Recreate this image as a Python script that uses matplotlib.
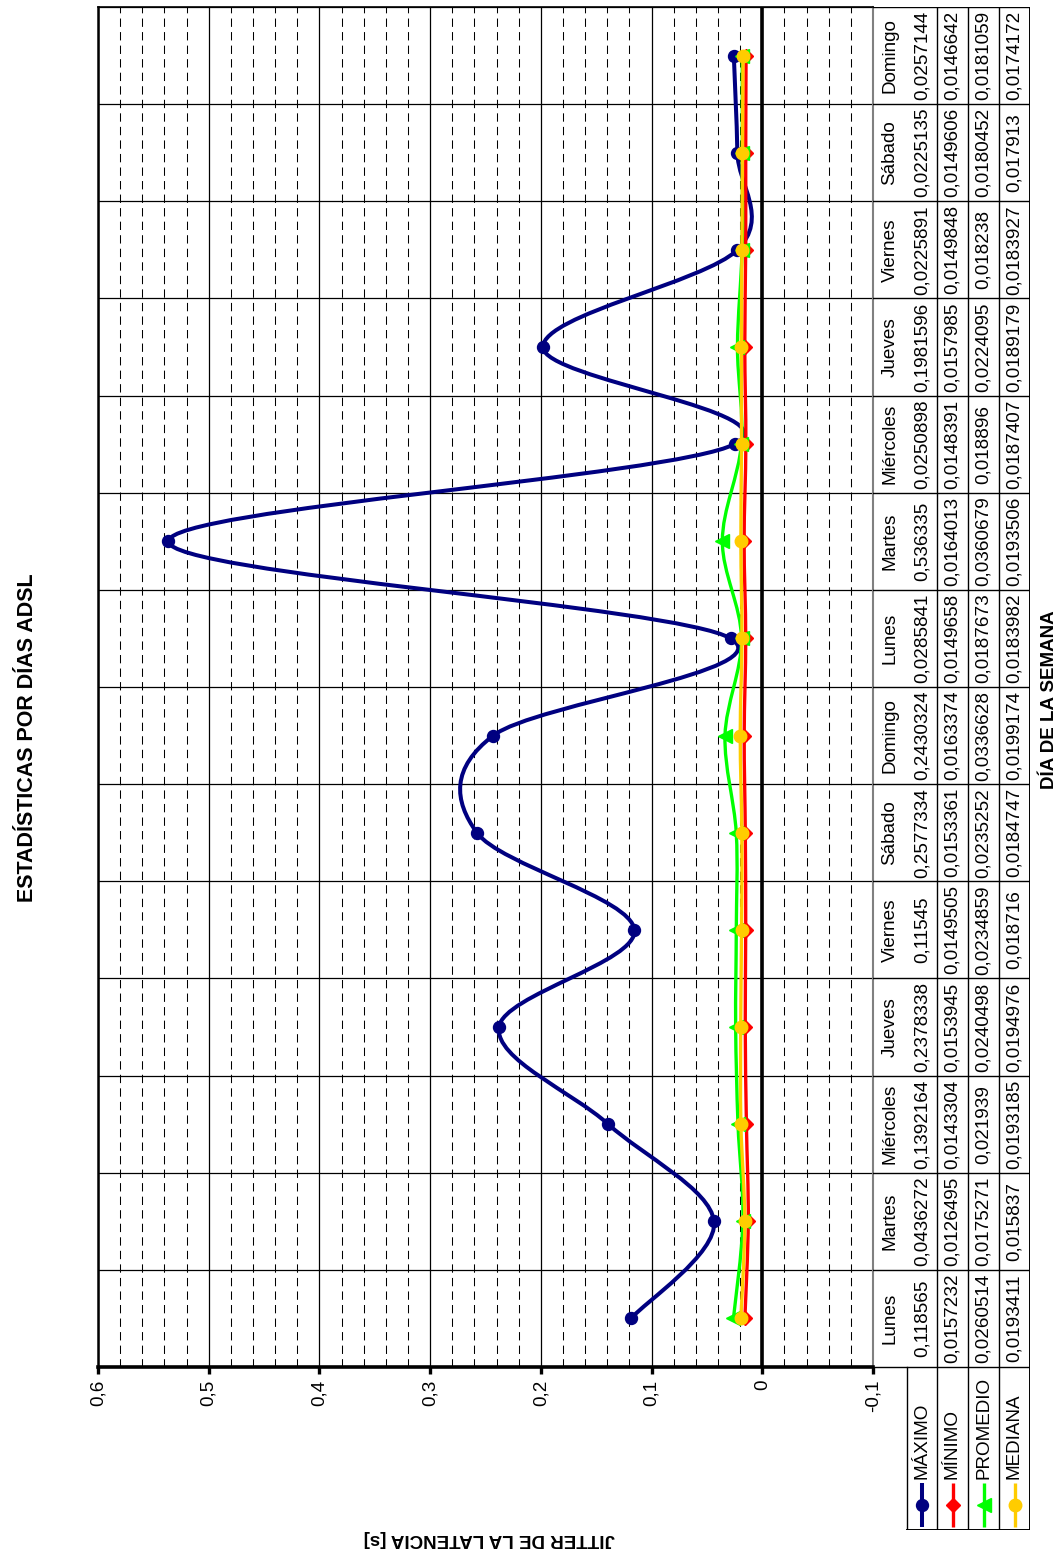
import numpy as np
import matplotlib
matplotlib.use("Agg")
import matplotlib.pyplot as plt
from matplotlib.path import Path
from matplotlib.patches import PathPatch
from matplotlib.ticker import MultipleLocator, FuncFormatter

plt.rcParams['font.family'] = ['Liberation Sans', 'DejaVu Sans']

# ---- data -------------------------------------------------------------
dias = ["Lunes", "Martes", "Miércoles", "Jueves", "Viernes", "Sábado", "Domingo",
        "Lunes", "Martes", "Miércoles", "Jueves", "Viernes", "Sábado", "Domingo"]

maximo = [0.118565, 0.0436272, 0.1392164, 0.2378338, 0.11545, 0.2577334, 0.2430324,
          0.0285841, 0.536335, 0.0250898, 0.1981596, 0.0225891, 0.0225135, 0.0257144]
minimo = [0.0157232, 0.0126495, 0.0143304, 0.0153945, 0.0149505, 0.0153361, 0.0163374,
          0.0149658, 0.0164013, 0.0148391, 0.0157985, 0.0149848, 0.0149606, 0.0146642]
promedio = [0.0260514, 0.0175271, 0.021939, 0.0240498, 0.0234859, 0.0235252, 0.0336628,
            0.0187673, 0.0360679, 0.018896, 0.0224095, 0.018238, 0.0180452, 0.0181059]
mediana = [0.0193411, 0.015837, 0.0193185, 0.0194976, 0.018716, 0.0184747, 0.0199174,
           0.0183982, 0.0193506, 0.0187407, 0.0189179, 0.0183927, 0.017913, 0.0174172]

nombres = ["MÁXIMO", "MÍNIMO", "PROMEDIO", "MEDIANA"]
series = [maximo, minimo, promedio, mediana]

titulo = "ESTADÍSTICAS POR DÍAS ADSL"
eje_valor = "JITTER DE LA LATENCIA [s]"
eje_categoria = "DÍA DE LA SEMANA"

# ---- styles -----------------------------------------------------------
colores = ["#000080", "#FF0000", "#00FF00", "#FFCC00"]
marcadores = ["o", "D", "<", "o"]
tam_marcador = [8.6, 7.0, 9.5, 9.0]
grosor = [2.9, 2.4, 2.4, 2.4]
FS = 13.6

W, H = 1060, 1551
fig = plt.figure(figsize=(W / 100, H / 100), dpi=100)


def fx(px):
    return px / W


def fy(py):
    return 1 - py / H


# plot area (the chart is laid out turned a quarter turn)
L, R, T, B = 98, 873, 7, 1367
ax = fig.add_axes([fx(L), fy(B), (R - L) / W, (B - T) / H])
n = len(dias)
ax.set_xlim(0.6, -0.1)
ax.set_ylim(-0.5, n - 0.5)

ax.xaxis.set_major_locator(MultipleLocator(0.1))
ax.xaxis.set_minor_locator(MultipleLocator(0.02))


def coma(v, _):
    if abs(v) < 1e-9:
        return "0"
    return ("%g" % round(v, 2)).replace(".", ",")


ax.xaxis.set_major_formatter(FuncFormatter(coma))
ax.set_yticks(np.arange(-0.5, n, 1.0))
ax.tick_params(axis="y", length=0, labelleft=False)
ax.tick_params(axis="x", which="major", direction="out", length=5, width=2.4,
               labelsize=FS, labelrotation=90, pad=4)
ax.tick_params(axis="x", which="minor", length=0)

ax.grid(which="major", axis="x", color="black", lw=0.9)
ax.grid(which="minor", axis="x", color="black", lw=0.75, ls=(0, (8, 5)))
ax.grid(which="major", axis="y", color="black", lw=0.9)
ax.set_axisbelow(True)

ax.axvline(0, color="black", lw=2.6, zorder=2)
for s in ["left", "top", "right", "bottom"]:
    ax.spines[s].set_color("black")
ax.spines["left"].set_linewidth(1.8)
ax.spines["top"].set_linewidth(1.2)
ax.spines["right"].set_linewidth(1.5)
ax.spines["right"].set_color("#808080")
ax.spines["bottom"].set_linewidth(2.6)


def suavizada(vals):
    """Smoothed polyline as cubic Bezier segments (value on x, day on y)."""
    pts = np.column_stack([np.asarray(vals, float), np.arange(len(vals), dtype=float)])
    ext = np.vstack([pts[0], pts, pts[-1]])
    verts = [pts[0]]
    codes = [Path.MOVETO]
    for i in range(len(pts) - 1):
        p0, p1, p2, p3 = ext[i], ext[i + 1], ext[i + 2], ext[i + 3]
        c1 = p1 + (p2 - p0) / 6.0
        c2 = p2 - (p3 - p1) / 6.0
        verts += [c1, c2, p2]
        codes += [Path.CURVE4] * 3
    return Path(verts, codes)


idx = np.arange(n)
for k, vals in enumerate(series):
    ax.add_patch(PathPatch(suavizada(vals), fill=False, edgecolor=colores[k],
                           lw=grosor[k], capstyle="round", joinstyle="round",
                           zorder=3 + k))
    ax.plot(vals, idx, ls="none", marker=marcadores[k], ms=tam_marcador[k],
            color=colores[k], mec=colores[k], zorder=3.5 + k)

# ---- data table -------------------------------------------------------
TB = 1530  # bottom of the legend block
unit = (B - T) / n
ybot = -0.5 - (TB - B) / unit
tab = fig.add_axes([fx(R), fy(TB), (1030 - R) / W, (TB - T) / H])
tab.set_xlim(0, 1030 - R)
tab.set_ylim(ybot, n - 0.5)
tab.axis("off")

bordes = [0, 34, 64, 95, 126, 157]
lw_t = 1.0
# day separators across the table
for yb in np.arange(-0.5, n, 1.0):
    tab.plot([0, bordes[-1]], [yb, yb], color="black", lw=lw_t)
for xb in bordes[2:-1]:
    tab.plot([xb, xb], [ybot, n - 0.5], color="black", lw=lw_t)
tab.plot([bordes[-1]] * 2, [ybot, n - 0.5], color="black", lw=1.4)
tab.plot([bordes[1]] * 2, [ybot, -0.5], color="black", lw=lw_t)
tab.plot([bordes[1], bordes[-1]], [ybot, ybot], color="black", lw=1.4)

centros = [(bordes[i] + bordes[i + 1]) / 2 for i in range(len(bordes) - 1)]
for j, dia in enumerate(dias):
    tab.text(centros[0], j, dia, rotation=90, ha="center", va="center", fontsize=FS)
    for k, vals in enumerate(series):
        tab.text(centros[k + 1], j, str(vals[j]).replace(".", ","), rotation=90,
                 ha="center", va="center", fontsize=FS)


def ypx(py):
    return (n - 0.5) - (py - T) / unit


# legend keys and series names
for k in range(len(series)):
    cx = centros[k + 1]
    tab.plot([cx, cx], [ypx(1483), ypx(1527)], color=colores[k], lw=grosor[k],
             solid_capstyle="butt")
    tab.plot([cx], [ypx(1505)], ls="none", marker=marcadores[k], ms=tam_marcador[k],
             color=colores[k], mec=colores[k])
    tab.text(cx, ypx(1479), nombres[k], rotation=90, ha="center", va="bottom",
             fontsize=FS)

# ---- titles -----------------------------------------------------------
fig.text(fx(28), fy(738), titulo, rotation=90, ha="center", va="center",
         fontsize=15.5, fontweight="bold")
fig.text(fx(489), fy(1538), eje_valor, rotation=180, ha="center", va="center",
         fontsize=13.5, fontweight="bold")
fig.text(fx(1050), fy(700), eje_categoria, rotation=90, ha="center", va="center",
         fontsize=13.5, fontweight="bold")

fig.savefig("out.png", dpi=100)
